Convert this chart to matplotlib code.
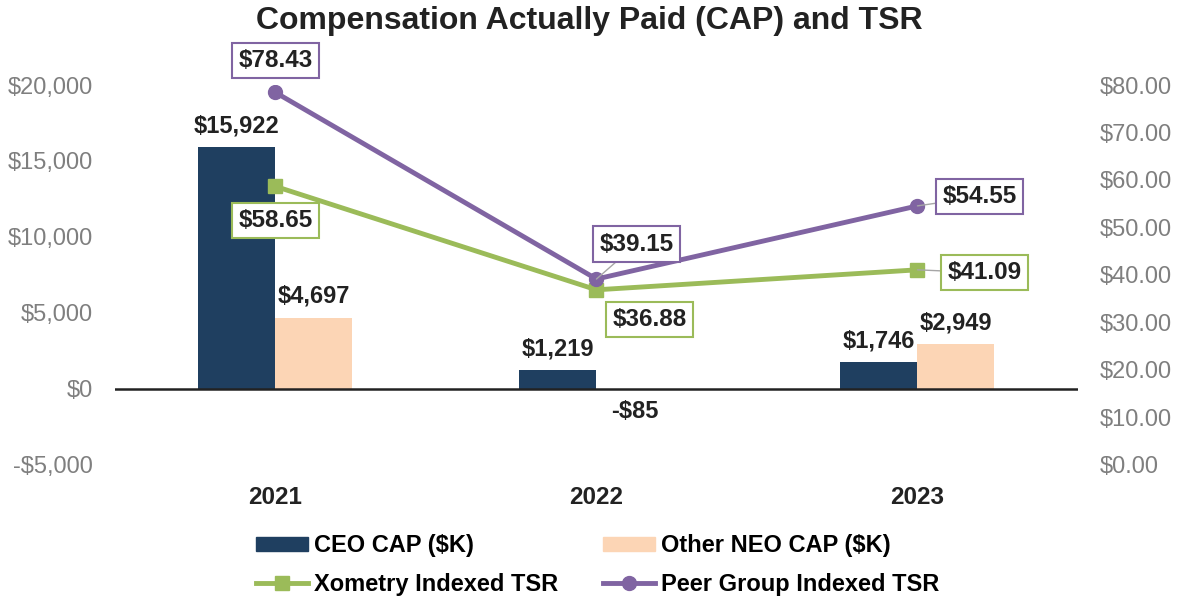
import matplotlib.pyplot as plt
from matplotlib.patches import Patch
from matplotlib.lines import Line2D
import numpy as np

plt.rcParams['font.family'] = ['Liberation Sans', 'DejaVu Sans']

# ---------- DATA ----------
years = ["2021", "2022", "2023"]
ceo_cap = [15922, 1219, 1746]
neo_cap = [4697, -85, 2949]
xometry_tsr = [58.65, 36.88, 41.09]
peer_tsr = [78.43, 39.15, 54.55]

left_ticks = [-5000, 0, 5000, 10000, 15000, 20000]
right_ticks = [0, 10, 20, 30, 40, 50, 60, 70, 80]

# ---------- STYLE ----------
NAVY = "#1F3F60"
PEACH = "#FCD5B5"
GREEN = "#9BBB59"
PURPLE = "#8064A2"
GREY = "#7F7F7F"
INK = "#222222"


def money(v):
    return f"-${-v:,}" if v < 0 else f"${v:,}"


fig = plt.figure(figsize=(11.79, 6.02), dpi=100)
ax = fig.add_axes([0.0975, 0.2276, 0.8168, 0.6312])
ax2 = ax.twinx()

x = np.arange(len(years))
w = 0.24
b1 = ax.bar(x - w / 2, ceo_cap, w, color=NAVY, zorder=2)
b2 = ax.bar(x + w / 2, neo_cap, w, color=PEACH, zorder=2)
ax.bar_label(b1, labels=[money(v) for v in ceo_cap], padding=7,
             fontsize=17, fontweight="bold", color=INK)
ax.bar_label(b2, labels=[money(v) for v in neo_cap], padding=7,
             fontsize=17, fontweight="bold", color=INK)
ax.axhline(0, color=INK, lw=1.8, zorder=3)

ax.set_xlim(-0.5, 2.5)
ax.set_ylim(-5000, 20000)
ax.set_yticks(left_ticks)
ax.set_yticklabels([money(v) for v in left_ticks], fontsize=17, color=GREY)
ax.set_xticks(x)
ax.set_xticklabels(years, fontsize=17.5, fontweight="bold", color=INK)
ax.tick_params(axis="x", length=0, pad=15)
ax.tick_params(axis="y", length=0, pad=16)
for s in ax.spines.values():
    s.set_visible(False)

# ---------- TSR LINES ----------
ax2.plot(x, xometry_tsr, color=GREEN, lw=3.5, marker="s", ms=10, zorder=4)
ax2.plot(x, peer_tsr, color=PURPLE, lw=3.5, marker="o", ms=10, zorder=5)
ax2.set_ylim(0, 80)
ax2.set_yticks(right_ticks)
ax2.set_yticklabels([f"${v:.2f}" for v in right_ticks], fontsize=17, color=GREY)
ax2.tick_params(axis="y", length=0, pad=16)
for s in ax2.spines.values():
    s.set_visible(False)

# label offsets (pixels) from each point, and whether a leader line is drawn
green_off = [(0, -34, False), (53, -30, False), (67, -3, True)]
purple_off = [(0, 32, False), (40, 35, True), (62, 9, True)]

for vals, offs, col in [(xometry_tsr, green_off, GREEN), (peer_tsr, purple_off, PURPLE)]:
    for i, (v, (dx, dy, lead)) in enumerate(zip(vals, offs)):
        ax2.annotate(
            f"${v:.2f}", xy=(i, v), xytext=(dx, dy), textcoords="offset pixels",
            ha="center", va="center", fontsize=17.5, fontweight="bold", color=INK,
            bbox=dict(boxstyle="square,pad=0.25", fc="white", ec=col, lw=1.5),
            arrowprops=dict(arrowstyle="-", color="#A6A6A6", lw=1, shrinkA=0, shrinkB=0) if lead else None,
            zorder=6,
        )

fig.suptitle("Compensation Actually Paid (CAP) and TSR", fontsize=23,
             fontweight="bold", color=INK, y=0.99)

# ---------- LEGEND ----------
handles = [
    Patch(color=NAVY),
    Line2D([], [], color=GREEN, lw=3.5, marker="s", ms=10),
    Patch(color=PEACH),
    Line2D([], [], color=PURPLE, lw=3.5, marker="o", ms=10),
]
labels = ["CEO CAP ($K)", "Xometry Indexed TSR",
          "Other NEO CAP ($K)", "Peer Group Indexed TSR"]
fig.legend(handles, labels, ncol=2, loc="center", bbox_to_anchor=(0.507, 0.0615),
           frameon=False, handlelength=2.2, handleheight=0.5, handletextpad=0.25,
           columnspacing=1.9, labelspacing=0.66,
           prop={"size": 17, "weight": "bold"})

fig.savefig("out.png", dpi=100)
